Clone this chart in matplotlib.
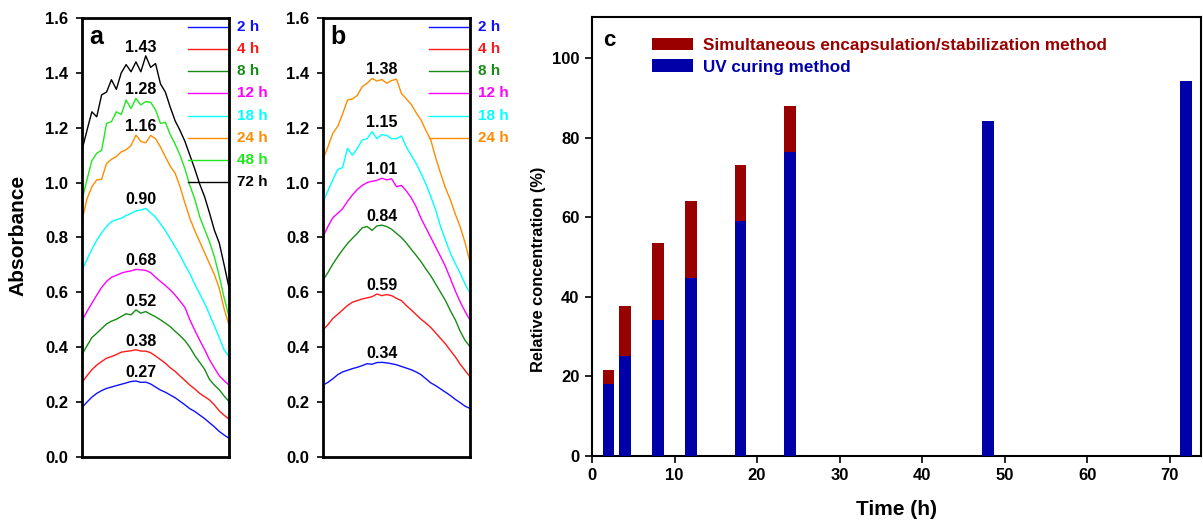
import matplotlib
matplotlib.use("Agg")
import matplotlib.pyplot as plt
from matplotlib.patches import Patch

# shared wavelength grid for the spectra (axis is unlabeled in the figure)
wavelength = list(range(400, 710, 10))

# (a) simultaneous encapsulation/stabilization
a_2h = [0.180, 0.200, 0.218, 0.232, 0.242, 0.250, 0.255, 0.260, 0.265, 0.270, 0.275,
        0.277, 0.272, 0.273, 0.266, 0.255, 0.244, 0.236, 0.226, 0.216, 0.203, 0.190,
        0.176, 0.166, 0.153, 0.140, 0.125, 0.110, 0.093, 0.080, 0.068]
a_4h = [0.272, 0.296, 0.318, 0.335, 0.348, 0.360, 0.366, 0.373, 0.382, 0.385, 0.387,
        0.391, 0.386, 0.386, 0.380, 0.368, 0.355, 0.342, 0.325, 0.312, 0.295, 0.279,
        0.262, 0.248, 0.232, 0.220, 0.208, 0.190, 0.168, 0.152, 0.138]
a_8h = [0.374, 0.405, 0.435, 0.451, 0.468, 0.485, 0.495, 0.502, 0.512, 0.522, 0.518,
        0.536, 0.524, 0.530, 0.520, 0.511, 0.500, 0.488, 0.475, 0.458, 0.442, 0.424,
        0.400, 0.370, 0.345, 0.320, 0.283, 0.262, 0.245, 0.222, 0.202]
a_12h = [0.497, 0.530, 0.560, 0.590, 0.618, 0.640, 0.655, 0.662, 0.670, 0.675, 0.678,
         0.684, 0.682, 0.680, 0.672, 0.655, 0.640, 0.625, 0.609, 0.590, 0.568, 0.545,
         0.500, 0.462, 0.426, 0.392, 0.355, 0.325, 0.296, 0.278, 0.262]
a_18h = [0.680, 0.720, 0.757, 0.790, 0.817, 0.840, 0.858, 0.865, 0.870, 0.880, 0.888,
         0.897, 0.900, 0.906, 0.890, 0.874, 0.850, 0.825, 0.795, 0.766, 0.735, 0.700,
         0.668, 0.630, 0.595, 0.560, 0.520, 0.478, 0.435, 0.390, 0.366]
a_24h = [0.864, 0.940, 0.985, 1.010, 1.012, 1.070, 1.085, 1.095, 1.112, 1.120, 1.135,
         1.173, 1.150, 1.145, 1.172, 1.160, 1.130, 1.094, 1.060, 1.034, 0.985, 0.925,
         0.870, 0.825, 0.785, 0.745, 0.705, 0.665, 0.615, 0.540, 0.480]
a_48h = [0.937, 1.010, 1.080, 1.107, 1.118, 1.216, 1.222, 1.258, 1.248, 1.301, 1.270,
         1.307, 1.283, 1.295, 1.293, 1.265, 1.216, 1.220, 1.175, 1.140, 1.100, 1.050,
         0.990, 0.940, 0.876, 0.830, 0.785, 0.730, 0.660, 0.580, 0.511]
a_72h = [1.119, 1.190, 1.258, 1.240, 1.320, 1.330, 1.375, 1.340, 1.400, 1.430, 1.404,
         1.440, 1.404, 1.462, 1.420, 1.434, 1.360, 1.330, 1.275, 1.225, 1.190, 1.150,
         1.100, 1.050, 0.995, 0.949, 0.890, 0.827, 0.780, 0.700, 0.616]

# (b) UV curing
b_2h = [0.262, 0.272, 0.285, 0.300, 0.310, 0.316, 0.322, 0.327, 0.333, 0.340, 0.338,
        0.344, 0.345, 0.343, 0.340, 0.336, 0.330, 0.324, 0.318, 0.310, 0.300, 0.285,
        0.270, 0.260, 0.248, 0.236, 0.224, 0.210, 0.198, 0.185, 0.177]
b_4h = [0.463, 0.482, 0.505, 0.520, 0.536, 0.552, 0.564, 0.570, 0.576, 0.580, 0.584,
        0.594, 0.588, 0.592, 0.588, 0.578, 0.570, 0.552, 0.536, 0.519, 0.502, 0.488,
        0.472, 0.452, 0.432, 0.412, 0.388, 0.365, 0.338, 0.315, 0.293]
b_8h = [0.645, 0.672, 0.703, 0.730, 0.755, 0.778, 0.797, 0.815, 0.835, 0.840, 0.826,
        0.842, 0.845, 0.840, 0.830, 0.815, 0.800, 0.780, 0.757, 0.735, 0.712, 0.685,
        0.660, 0.630, 0.600, 0.570, 0.533, 0.500, 0.458, 0.425, 0.402]
b_12h = [0.803, 0.840, 0.872, 0.888, 0.905, 0.932, 0.955, 0.975, 0.990, 1.000, 1.005,
         1.008, 1.016, 1.010, 1.014, 0.985, 0.990, 0.970, 0.945, 0.912, 0.870, 0.835,
         0.800, 0.765, 0.730, 0.694, 0.650, 0.605, 0.565, 0.530, 0.499]
b_18h = [0.930, 0.970, 1.010, 1.048, 1.055, 1.125, 1.100, 1.125, 1.155, 1.160, 1.186,
         1.160, 1.175, 1.172, 1.160, 1.160, 1.170, 1.130, 1.100, 1.070, 1.034, 0.995,
         0.949, 0.900, 0.839, 0.790, 0.742, 0.705, 0.670, 0.630, 0.597]
b_24h = [1.085, 1.130, 1.180, 1.205, 1.250, 1.301, 1.305, 1.318, 1.350, 1.362, 1.380,
         1.370, 1.376, 1.362, 1.372, 1.377, 1.325, 1.305, 1.285, 1.255, 1.228, 1.190,
         1.155, 1.090, 1.034, 0.980, 0.937, 0.885, 0.839, 0.780, 0.710]

a_curves = [a_2h, a_4h, a_8h, a_12h, a_18h, a_24h, a_48h, a_72h]
b_curves = [b_2h, b_4h, b_8h, b_12h, b_18h, b_24h]
a_peaks = ["0.27", "0.38", "0.52", "0.68", "0.90", "1.16", "1.28", "1.43"]
b_peaks = ["0.34", "0.59", "0.84", "1.01", "1.15", "1.38"]
hour_labels = ["2 h", "4 h", "8 h", "12 h", "18 h", "24 h", "48 h", "72 h"]
hour_colors = ["#1010ff", "#ff1a1a", "#168c16", "#ff00ff", "#00ffff", "#ff8c00",
               "#1ee81e", "#000000"]

# (c) relative concentration
times = [2, 4, 8, 12, 18, 24, 48, 72]
uv_curing = [18.1, 25.1, 34.2, 44.7, 59.0, 76.4, 84.2, 94.2]
simul_times = [2, 4, 8, 12, 18, 24]
simultaneous = [21.6, 37.7, 53.5, 64.1, 73.1, 87.9]

plt.rcParams["font.family"] = "Liberation Sans"
plt.rcParams["font.weight"] = "bold"

fig = plt.figure(figsize=(12.03, 5.26), dpi=100)
ax_a = fig.add_axes([0.0682, 0.1312, 0.1222, 0.8346])
ax_b = fig.add_axes([0.2685, 0.1312, 0.1222, 0.8346])
ax_c = fig.add_axes([0.4921, 0.1331, 0.5062, 0.8346])


def spectra(ax, curves, peaks, letter):
    for vals, lab, col in zip(curves, peaks, hour_colors):
        ax.plot(wavelength, vals, color=col, lw=1.0)
        ax.annotate(lab, xy=(wavelength[12], max(vals)), xytext=(0, 3),
                    textcoords="offset points", ha="center", va="baseline",
                    fontsize=11.5, fontweight="bold")
    for i in range(len(curves)):
        y = 0.98 - i * 0.0506
        ax.plot([0.72, 1.0], [y, y], color=hour_colors[i], lw=1.0,
                transform=ax.transAxes, clip_on=False)
        ax.text(1.055, y, hour_labels[i], color=hour_colors[i], transform=ax.transAxes,
                ha="left", va="center", fontsize=11, fontweight="bold")
    ax.text(0.05, 0.94, letter, transform=ax.transAxes, fontsize=18,
            fontweight="bold", ha="left", va="baseline")
    ax.set_xlim(wavelength[0], wavelength[-1])
    ax.set_ylim(0, 1.6)
    ax.set_yticks([0.0, 0.2, 0.4, 0.6, 0.8, 1.0, 1.2, 1.4, 1.6])
    ax.set_yticklabels([f"{v:.1f}" for v in ax.get_yticks()])
    ax.set_xticks([])
    ax.tick_params(axis="y", direction="out", length=4.5, width=1.2, labelsize=12, pad=5.5)
    for s in ax.spines.values():
        s.set_linewidth(2.0)


spectra(ax_a, a_curves, a_peaks, "a")
spectra(ax_b, b_curves, b_peaks, "b")
fig.text(18 / 1203, 1 - 235 / 526, "Absorbance", rotation=90, ha="center",
         va="center", fontsize=15, fontweight="bold")

# panel c: simultaneous method drawn behind the UV-cured bars
ax_c.bar(simul_times, simultaneous, width=1.4, color="#990000", zorder=2)
ax_c.bar(times, uv_curing, width=1.4, color="#0000a8", zorder=3)
ax_c.set_xlim(0, 73.8)
ax_c.set_ylim(0, 110.3)
ax_c.set_xticks(range(0, 80, 10))
ax_c.set_yticks(range(0, 120, 20))
ax_c.tick_params(direction="out", length=5, width=1.2, labelsize=12, pad=4)
for s in ax_c.spines.values():
    s.set_linewidth(1.5)
ax_c.set_xlabel("Time (h)", fontsize=15, fontweight="bold")
ax_c.xaxis.set_label_coords(0.5, -0.10)
fig.text(539 / 1203, 1 - 269 / 526, "Relative concentration (%)", rotation=90,
         ha="center", va="center", fontsize=11.8, fontweight="bold")
ax_c.text(0.018, 0.934, "c", transform=ax_c.transAxes, fontsize=16,
          fontweight="bold", ha="left", va="baseline")
handles = [Patch(facecolor="#990000"), Patch(facecolor="#0000a8")]
ax_c.legend(handles, ["Simultaneous encapsulation/stabilization method",
                      "UV curing method"],
            loc="upper left", bbox_to_anchor=(0.074, 0.988), frameon=False,
            handlelength=2.35, handleheight=0.78, handletextpad=0.6,
            labelspacing=0.38, labelcolor=["#990000", "#0000a8"],
            prop={"weight": "bold", "size": 12.3})

fig.savefig("out.png", dpi=100)
